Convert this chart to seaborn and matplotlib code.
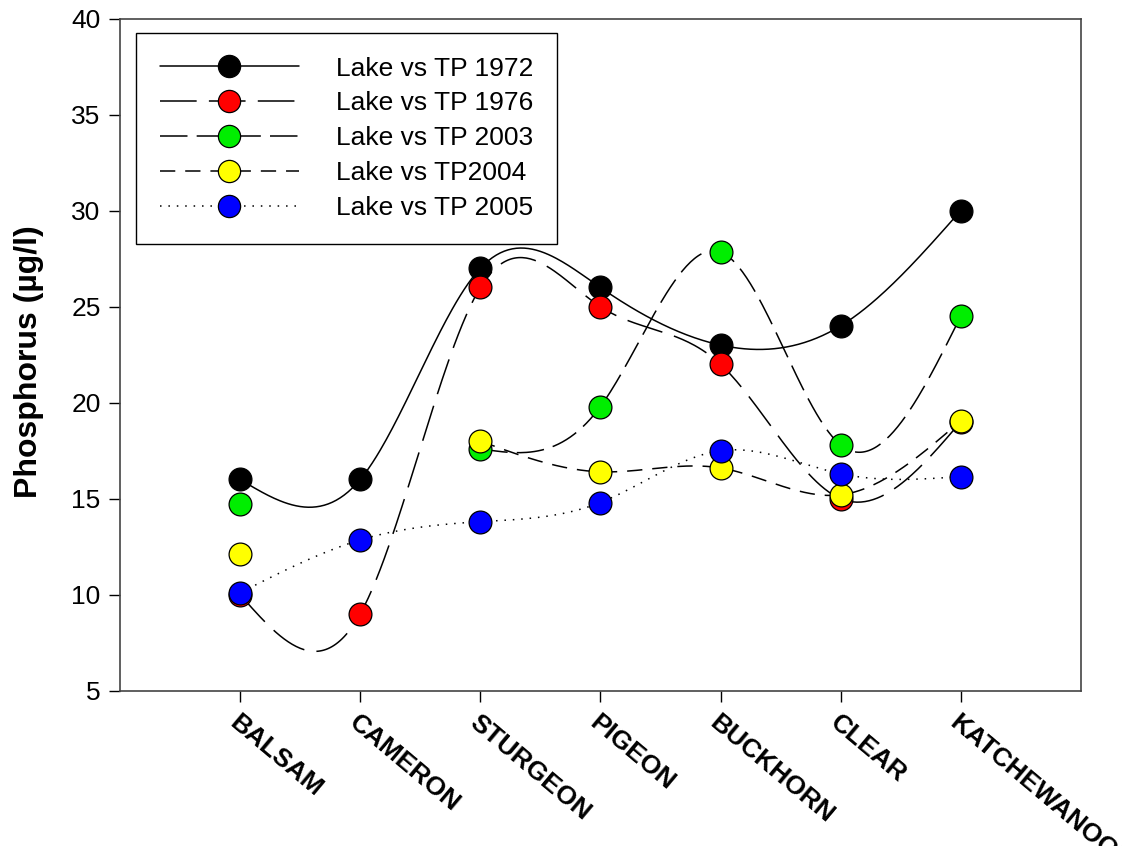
import numpy as np
import pandas as pd
import matplotlib
matplotlib.use("Agg")
import matplotlib.pyplot as plt
import matplotlib.transforms as mtransforms
import seaborn as sns
from matplotlib.lines import Line2D

# data
lakes = ["BALSAM", "CAMERON", "STURGEON", "PIGEON", "BUCKHORN", "CLEAR", "KATCHEWANOOKA"]
tp_1972 = [16.0, 16.0, 27.0, 26.0, 23.0, 24.0, 30.0]
tp_1976 = [10.0, 9.0, 26.0, 25.0, 22.0, 15.0, 19.0]
tp_2003 = [14.7, np.nan, 17.6, 19.8, 27.85, 17.8, 24.5]
tp_2004 = [12.1, np.nan, 18.0, 16.4, 16.6, 15.2, 19.05]
tp_2005 = [10.1, 12.85, 13.8, 14.8, 17.5, 16.3, 16.15]

labels = ["Lake vs TP 1972", "Lake vs TP 1976", "Lake vs TP 2003", "Lake vs TP2004", "Lake vs TP 2005"]
colors = ["black", "red", "#00ee00", "yellow", "blue"]
styles = ["-", (0, (24, 8)), (0, (18, 6)), (0, (10, 6.5)), (0, (1, 4.5))]
series = [tp_1972, tp_1976, tp_2003, tp_2004, tp_2005]


def natural_spline(x, y, n=60):
    """natural cubic spline through the points, as the original curve style"""
    x = np.asarray(x, float)
    y = np.asarray(y, float)
    k = len(x)
    if k < 3:
        xs = np.linspace(x[0], x[-1], n)
        return xs, np.interp(xs, x, y)
    h = np.diff(x)
    A = np.zeros((k - 2, k - 2))
    r = np.zeros(k - 2)
    for i in range(1, k - 1):
        A[i - 1, i - 1] = 2 * (h[i - 1] + h[i])
        if i > 1:
            A[i - 1, i - 2] = h[i - 1]
        if i < k - 2:
            A[i - 1, i] = h[i]
        r[i - 1] = 6 * ((y[i + 1] - y[i]) / h[i] - (y[i] - y[i - 1]) / h[i - 1])
    M = np.zeros(k)
    M[1:-1] = np.linalg.solve(A, r)
    xs_all, ys_all = [], []
    for i in range(k - 1):
        t = np.linspace(x[i], x[i + 1], n, endpoint=(i == k - 2))
        a = x[i + 1] - t
        b = t - x[i]
        s = (M[i] * a ** 3 + M[i + 1] * b ** 3) / (6 * h[i]) \
            + (y[i] / h[i] - M[i] * h[i] / 6) * a + (y[i + 1] / h[i] - M[i + 1] * h[i] / 6) * b
        xs_all.append(t)
        ys_all.append(s)
    return np.concatenate(xs_all), np.concatenate(ys_all)


def runs(vals):
    """contiguous non-missing stretches"""
    out, cur = [], []
    for i, v in enumerate(vals):
        if np.isnan(v):
            if cur:
                out.append(cur)
            cur = []
        else:
            cur.append(i)
    if cur:
        out.append(cur)
    return out


sns.set_style("white")
plt.rcParams["font.family"] = ["Liberation Sans", "DejaVu Sans"]
plt.rcParams.update({"text.color": "black", "axes.labelcolor": "black",
                     "xtick.color": "black", "ytick.color": "black"})

fig = plt.figure(figsize=(11.27, 8.46), dpi=100)
ax = fig.add_axes([0.1065, 0.1836, 0.8525, 0.7943])

pos = np.arange(len(lakes))
for j, (vals, lab, col, ls) in enumerate(zip(series, labels, colors, styles)):
    vals = np.asarray(vals, float)
    for run in runs(vals):
        if len(run) < 2:
            continue
        xs, ys = natural_spline(pos[run], vals[run])
        sns.lineplot(x=xs, y=ys, ax=ax, color="black", linewidth=1.1, linestyle=ls,
                     errorbar=None, sort=False, zorder=2 + 2 * j)
    df = pd.DataFrame({"x": pos, "y": vals}).dropna()
    sns.scatterplot(data=df, x="x", y="y", ax=ax, s=270, color=col, edgecolor="black",
                    linewidth=0.9, zorder=3 + 2 * j, legend=False)

ax.set_xlim(-1, 7)
ax.set_ylim(5, 40)
ax.set_yticks(np.arange(5, 41, 5))
ax.set_xticks(pos)
ax.set_xticklabels(lakes, rotation=-40, ha="left", va="top", rotation_mode="anchor",
                   fontsize=19, fontweight="bold")
shift = mtransforms.ScaledTranslation(3 / 100, 0, fig.dpi_scale_trans)
for t in ax.get_xticklabels():
    t.set_transform(t.get_transform() + shift)
ax.tick_params(axis="y", labelsize=19, length=8, width=1, direction="out", left=True, pad=6)
ax.tick_params(axis="x", length=8, width=1, direction="out", bottom=True, pad=6)
ax.set_xlabel("")
ax.set_ylabel("Phosphorus (µg/l)", fontsize=23, fontweight="bold")
ax.yaxis.set_label_coords(-0.079, 0.49)
for sp in ax.spines.values():
    sp.set_color("#444444")
    sp.set_linewidth(1.2)

handles = [Line2D([], [], color="black", linewidth=1.1, linestyle=ls, marker="o", markersize=16,
                  markerfacecolor=col, markeredgecolor="black", markeredgewidth=0.9)
           for col, ls in zip(colors, styles)]
leg = ax.legend(handles, labels, loc="upper left", bbox_to_anchor=(0.0167, 0.979), borderaxespad=0,
                fontsize=19, handlelength=5.27, handletextpad=1.4, labelspacing=0.41, borderpad=0.9,
                fancybox=False, framealpha=1, edgecolor="black")
leg.get_frame().set_linewidth(1.0)

fig.savefig("out.png", dpi=100)
